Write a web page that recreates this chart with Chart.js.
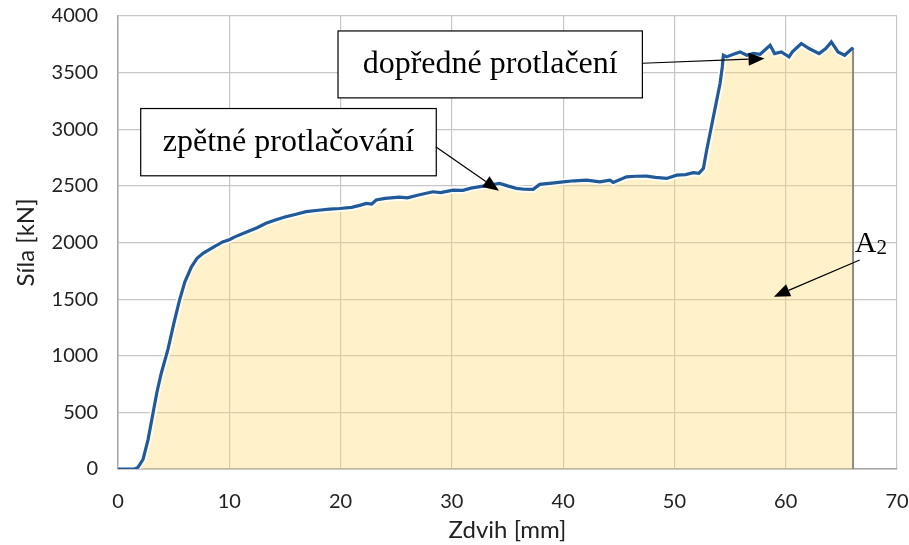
<!DOCTYPE html>
<html>
<head>
<meta charset="utf-8">
<script src="https://cdn.jsdelivr.net/npm/chart.js@4/dist/chart.umd.min.js"></script>
<style>
  html, body { margin: 0; padding: 0; background: #fff; }
  #wrap { width: 909px; height: 545px; }
</style>
</head>
<body>
<div id="wrap"><canvas id="graf"></canvas></div>
<script>
// průběh síly v závislosti na zdvihu
const zdvih = [0, 1.5, 1.8, 2.25, 2.7, 3.15, 3.5, 3.9, 4.5, 5.0, 5.5, 6.0, 6.6, 7.1, 7.64, 8.5, 9.4, 10.0,
  10.5, 11.5, 12.5, 13.3, 14.2, 15.0, 16.0, 16.9, 18.0, 19.0, 19.9, 21.0, 21.8, 22.3, 22.8, 23.2, 24.0,
  25.3, 26.0, 27.0, 28.3, 29.0, 30.1, 31.0, 31.7, 32.8, 33.5, 34.3, 35.0, 35.8, 36.5, 37.3, 37.9, 39.0,
  40.0, 41.0, 42.1, 43.3, 44.2, 44.5, 45.7, 46.5, 47.5, 48.3, 49.3, 50.2, 51.0, 51.7, 52.2, 52.6, 52.9,
  53.2, 53.8, 54.1, 54.3, 54.4, 54.7, 55.3, 55.9, 56.5, 57.1, 57.7, 58.6, 59.0, 59.6, 60.3, 60.6, 61.4,
  62.1, 63.0, 63.6, 64.1, 64.7, 65.3, 66.05];
const sila = [0, 0, 15, 85, 260, 494, 680, 850, 1060, 1280, 1480, 1650, 1785, 1860, 1905, 1955, 2005, 2025,
  2050, 2090, 2130, 2170, 2200, 2225, 2250, 2272, 2285, 2295, 2300, 2310, 2330, 2345, 2340, 2375, 2390,
  2400, 2395, 2420, 2448, 2440, 2463, 2460, 2480, 2498, 2510, 2522, 2500, 2478, 2470, 2469, 2513, 2525,
  2536, 2545, 2551, 2536, 2551, 2531, 2580, 2585, 2586, 2575, 2566, 2595, 2600, 2616, 2610, 2654, 2816,
  2963, 3257, 3404, 3550, 3653, 3639, 3662, 3683, 3653, 3670, 3662, 3742, 3668, 3683, 3639, 3683, 3757,
  3713, 3668, 3713, 3771, 3683, 3653, 3721];
const xTicks = [0, 10, 20, 30, 40, 50, 60, 70];
const yTicks = [0, 500, 1000, 1500, 2000, 2500, 3000, 3500, 4000];

const body = zdvih.map((x, i) => ({ x: x, y: sila[i] }));
const konec = body[body.length - 1];

// popisky se šipkami (souřadnice v jednotkách os)
const popisky = [
  { text: 'dopředné protlačení', box: [19.77, 47.12, 3868, 3277], from: [47.12, 3583], to: [58.1, 3624] },
  { text: 'zpětné protlačování', box: [2.04, 28.6, 3183, 2589], from: [28.55, 2845], to: [34.23, 2457] }
];
const plocha = { at: [66.2, 1916], from: [66.65, 1846], to: [58.94, 1522] };

function sipka(ctx, x1, y1, x2, y2) {
  const a = Math.atan2(y2 - y1, x2 - x1);
  const L = 16, W = 6.5;
  ctx.beginPath();
  ctx.moveTo(x1, y1);
  ctx.lineTo(x2 - L * Math.cos(a), y2 - L * Math.sin(a));
  ctx.stroke();
  ctx.beginPath();
  ctx.moveTo(x2, y2);
  ctx.lineTo(x2 - L * Math.cos(a) + W * Math.sin(a), y2 - L * Math.sin(a) - W * Math.cos(a));
  ctx.lineTo(x2 - L * Math.cos(a) - W * Math.sin(a), y2 - L * Math.sin(a) + W * Math.cos(a));
  ctx.closePath();
  ctx.fill();
}

const popiskyPlugin = {
  id: 'popisky',
  afterDatasetsDraw(chart) {
    const ctx = chart.ctx, sx = chart.scales.x, sy = chart.scales.y;
    ctx.save();
    ctx.strokeStyle = '#000';
    ctx.fillStyle = '#000';
    ctx.lineWidth = 1.2;
    popisky.forEach(p => {
      const l = sx.getPixelForValue(p.box[0]), r = sx.getPixelForValue(p.box[1]);
      const t = sy.getPixelForValue(p.box[2]), b = sy.getPixelForValue(p.box[3]);
      ctx.fillStyle = '#fff';
      ctx.fillRect(l, t, r - l, b - t);
      ctx.strokeRect(l, t, r - l, b - t);
      ctx.fillStyle = '#000';
      ctx.font = '32px "Liberation Serif", "Times New Roman", serif';
      ctx.textAlign = 'center';
      ctx.textBaseline = 'middle';
      ctx.fillText(p.text, (l + r) / 2, (t + b) / 2);
      sipka(ctx, sx.getPixelForValue(p.from[0]), sy.getPixelForValue(p.from[1]),
        sx.getPixelForValue(p.to[0]), sy.getPixelForValue(p.to[1]));
    });
    // označení plochy A2
    const ax = sx.getPixelForValue(plocha.at[0]), ay = sy.getPixelForValue(plocha.at[1]);
    ctx.textAlign = 'left';
    ctx.textBaseline = 'alphabetic';
    ctx.font = '30px "Liberation Serif", "Times New Roman", serif';
    ctx.fillText('A', ax, ay);
    const w = ctx.measureText('A').width;
    ctx.font = '21px "Liberation Serif", "Times New Roman", serif';
    ctx.fillText('2', ax + w, ay + 2);
    sipka(ctx, sx.getPixelForValue(plocha.from[0]), sy.getPixelForValue(plocha.from[1]),
      sx.getPixelForValue(plocha.to[0]), sy.getPixelForValue(plocha.to[1]));
    ctx.restore();
  }
};

// vlastní okraje grafu místo automatického odsazení popisků
function bezOdsazeni(s) {
  s.paddingLeft = s.paddingRight = s.paddingTop = s.paddingBottom = 0;
}

const tickFont = { family: 'Lato', size: 20 };
const titleFont = { family: 'Lato', size: 24 };

new Chart(document.getElementById('graf'), {
  type: 'scatter',
  data: {
    datasets: [
      {
        // plocha pod křivkou se světlým lemem
        data: body,
        showLine: true,
        pointRadius: 0,
        borderColor: 'rgba(255,255,255,0.85)',
        borderWidth: 7,
        backgroundColor: 'rgba(255, 214, 102, 0.35)',
        fill: 'origin',
        tension: 0,
        order: 3
      },
      {
        data: body,
        showLine: true,
        pointRadius: 0,
        borderColor: '#215A98',
        borderWidth: 3.2,
        fill: false,
        tension: 0,
        order: 1
      },
      {
        // svislé ohraničení plochy
        data: [{ x: konec.x, y: 0 }, { x: konec.x, y: konec.y }],
        showLine: true,
        pointRadius: 0,
        borderColor: '#8A8A8A',
        borderWidth: 2,
        fill: false,
        order: 2
      }
    ]
  },
  options: {
    responsive: true,
    maintainAspectRatio: false,
    animation: false,
    layout: { padding: { left: 0, right: 12, top: 16, bottom: 0 } },
    plugins: { legend: { display: false }, tooltip: { enabled: false } },
    scales: {
      x: {
        type: 'linear',
        min: 0, max: 70,
        afterBuildTicks: s => { s.ticks = xTicks.map(v => ({ value: v })); },
        afterFit: s => { s.height = 76; bezOdsazeni(s); },
        grid: { color: '#C6C6C6', lineWidth: 1.2, drawTicks: false },
        border: { color: '#A6A6A6', width: 1.5 },
        ticks: { font: tickFont, color: '#222', padding: 21, maxRotation: 0, callback: v => String(v) },
        title: { display: true, text: 'Zdvih [mm]', font: titleFont, color: '#222', padding: { top: 0, bottom: 0 } }
      },
      y: {
        min: 0, max: 4000,
        afterBuildTicks: s => { s.ticks = yTicks.map(v => ({ value: v })); },
        afterFit: s => { s.width = 118; bezOdsazeni(s); },
        grid: { color: '#C6C6C6', lineWidth: 1.2, drawTicks: false },
        border: { color: '#A6A6A6', width: 1.5 },
        ticks: { font: tickFont, color: '#222', padding: 20, callback: v => String(v) },
        title: { display: true, text: 'Síla [kN]', font: titleFont, color: '#222', padding: { top: 12, bottom: 4 } }
      }
    }
  },
  plugins: [popiskyPlugin]
});
</script>
</body>
</html>
